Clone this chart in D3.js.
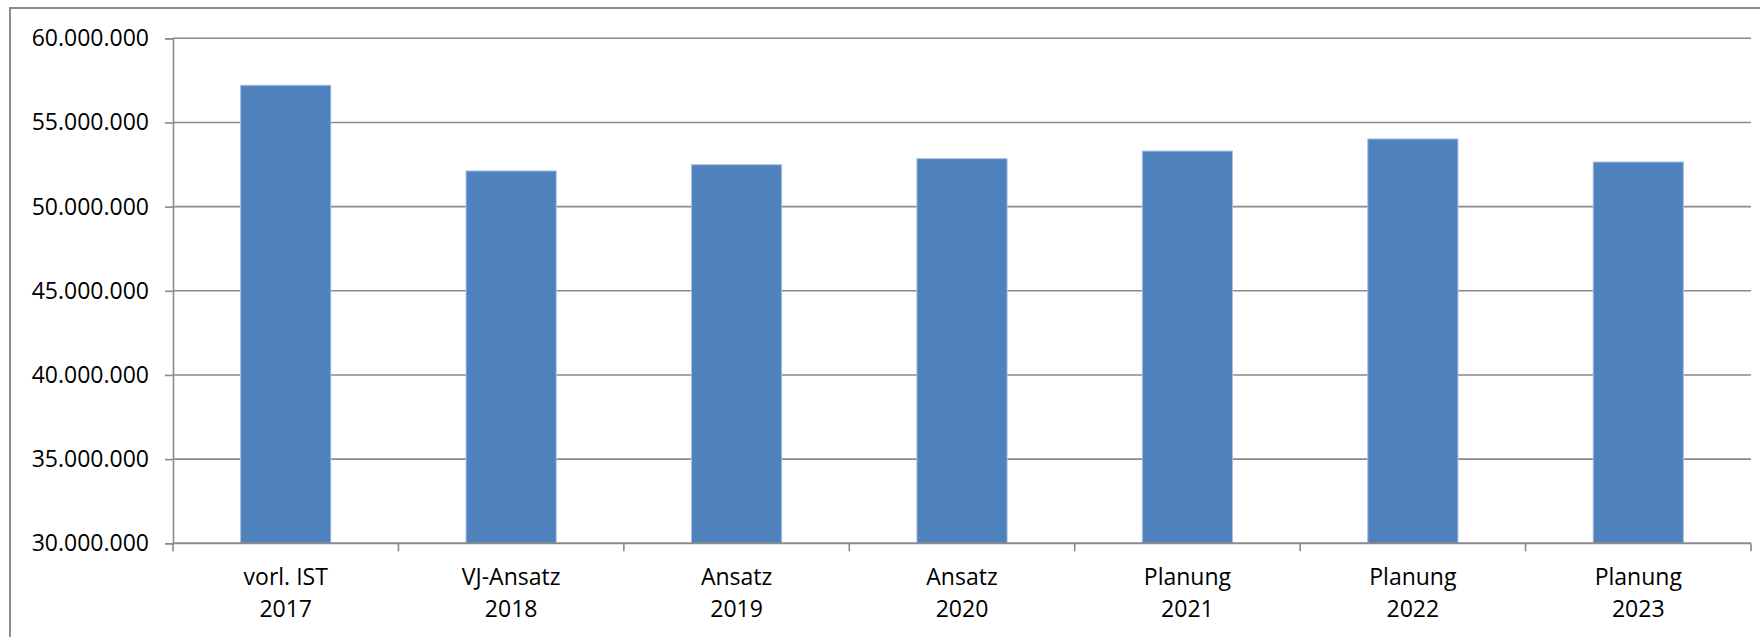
<!DOCTYPE html>
<html>
<head>
<meta charset="utf-8">
<script src="https://cdn.jsdelivr.net/npm/d3@7"></script>
<style>
  html, body { margin: 0; padding: 0; background: #fff; }
  svg { display: block; }
</style>
</head>
<body>
<svg id="chart" width="1760" height="637"></svg>
<script>
// Budget values per planning stage
const categories = [
  ["vorl. IST", "2017"],
  ["VJ-Ansatz", "2018"],
  ["Ansatz", "2019"],
  ["Ansatz", "2020"],
  ["Planung", "2021"],
  ["Planung", "2022"],
  ["Planung", "2023"]
];
const values = [57210000, 52120000, 52490000, 52850000, 53300000, 54020000, 52650000];
const yTicks = [30000000, 35000000, 40000000, 45000000, 50000000, 55000000, 60000000];
const yDomain = [30000000, 60000000];

const svg = d3.select("#chart");
const font = "'Open Sans', 'Liberation Sans', sans-serif";

const margin = { left: 173, right: 1751, top: 38.3, bottom: 543.3 };

// Chart-area frame
svg.append("rect")
  .attr("x", 10).attr("y", 8)
  .attr("width", 1800).attr("height", 700)
  .attr("fill", "none")
  .attr("stroke", "#8c8c8c")
  .attr("stroke-width", 2);

const x = d3.scaleBand()
  .domain(d3.range(categories.length))
  .range([margin.left, margin.right])
  .paddingInner(0.6)
  .paddingOuter(0.3);

const y = d3.scaleLinear()
  .domain(yDomain)
  .range([margin.bottom, margin.top]);

const fmt = v => d3.format(",")(v).replace(/,/g, ".");

// Horizontal gridlines
svg.append("g")
  .selectAll("line")
  .data(yTicks.slice(1))
  .join("line")
  .attr("x1", margin.left).attr("x2", margin.right)
  .attr("y1", d => y(d)).attr("y2", d => y(d))
  .attr("stroke", "#8a8a8a")
  .attr("stroke-width", 1.6);

// Bars
svg.append("g")
  .selectAll("rect")
  .data(values)
  .join("rect")
  .attr("x", (d, i) => x(i))
  .attr("width", x.bandwidth())
  .attr("y", d => y(d))
  .attr("height", d => y(yDomain[0]) - y(d))
  .attr("fill", "#4f81bd")
  .attr("stroke", "#a7bfdf")
  .attr("stroke-width", 1);

// Y axis
const yAxis = d3.axisLeft(y)
  .tickValues(yTicks)
  .tickSize(8)
  .tickPadding(16)
  .tickFormat(fmt);

const gy = svg.append("g")
  .attr("transform", `translate(${margin.left},0)`)
  .call(yAxis);
gy.select(".domain").attr("stroke", "#8a8a8a").attr("stroke-width", 1.6);
gy.selectAll(".tick line").attr("stroke", "#8a8a8a").attr("stroke-width", 1.6);
gy.selectAll(".tick text")
  .attr("font-family", font)
  .attr("font-size", 23)
  .attr("fill", "#000");

// X axis: ticks sit on category boundaries
const boundaries = d3.range(categories.length + 1).map(i =>
  margin.left + i * (margin.right - margin.left) / categories.length);

const gx = svg.append("g");
gx.append("line")
  .attr("x1", margin.left).attr("x2", margin.right)
  .attr("y1", margin.bottom).attr("y2", margin.bottom)
  .attr("stroke", "#8a8a8a").attr("stroke-width", 2);
gx.selectAll("line.tick")
  .data(boundaries)
  .join("line")
  .attr("class", "tick")
  .attr("x1", d => d).attr("x2", d => d)
  .attr("y1", margin.bottom).attr("y2", margin.bottom + 8)
  .attr("stroke", "#8a8a8a").attr("stroke-width", 1.6);

const labels = gx.selectAll("text")
  .data(categories)
  .join("text")
  .attr("x", (d, i) => x(i) + x.bandwidth() / 2)
  .attr("y", 585)
  .attr("text-anchor", "middle")
  .attr("font-family", font)
  .attr("font-size", 23)
  .attr("fill", "#000");
labels.append("tspan")
  .attr("x", (d, i) => x(i) + x.bandwidth() / 2)
  .text(d => d[0]);
labels.append("tspan")
  .attr("x", (d, i) => x(i) + x.bandwidth() / 2)
  .attr("dy", 32)
  .text(d => d[1]);
</script>
</body>
</html>
